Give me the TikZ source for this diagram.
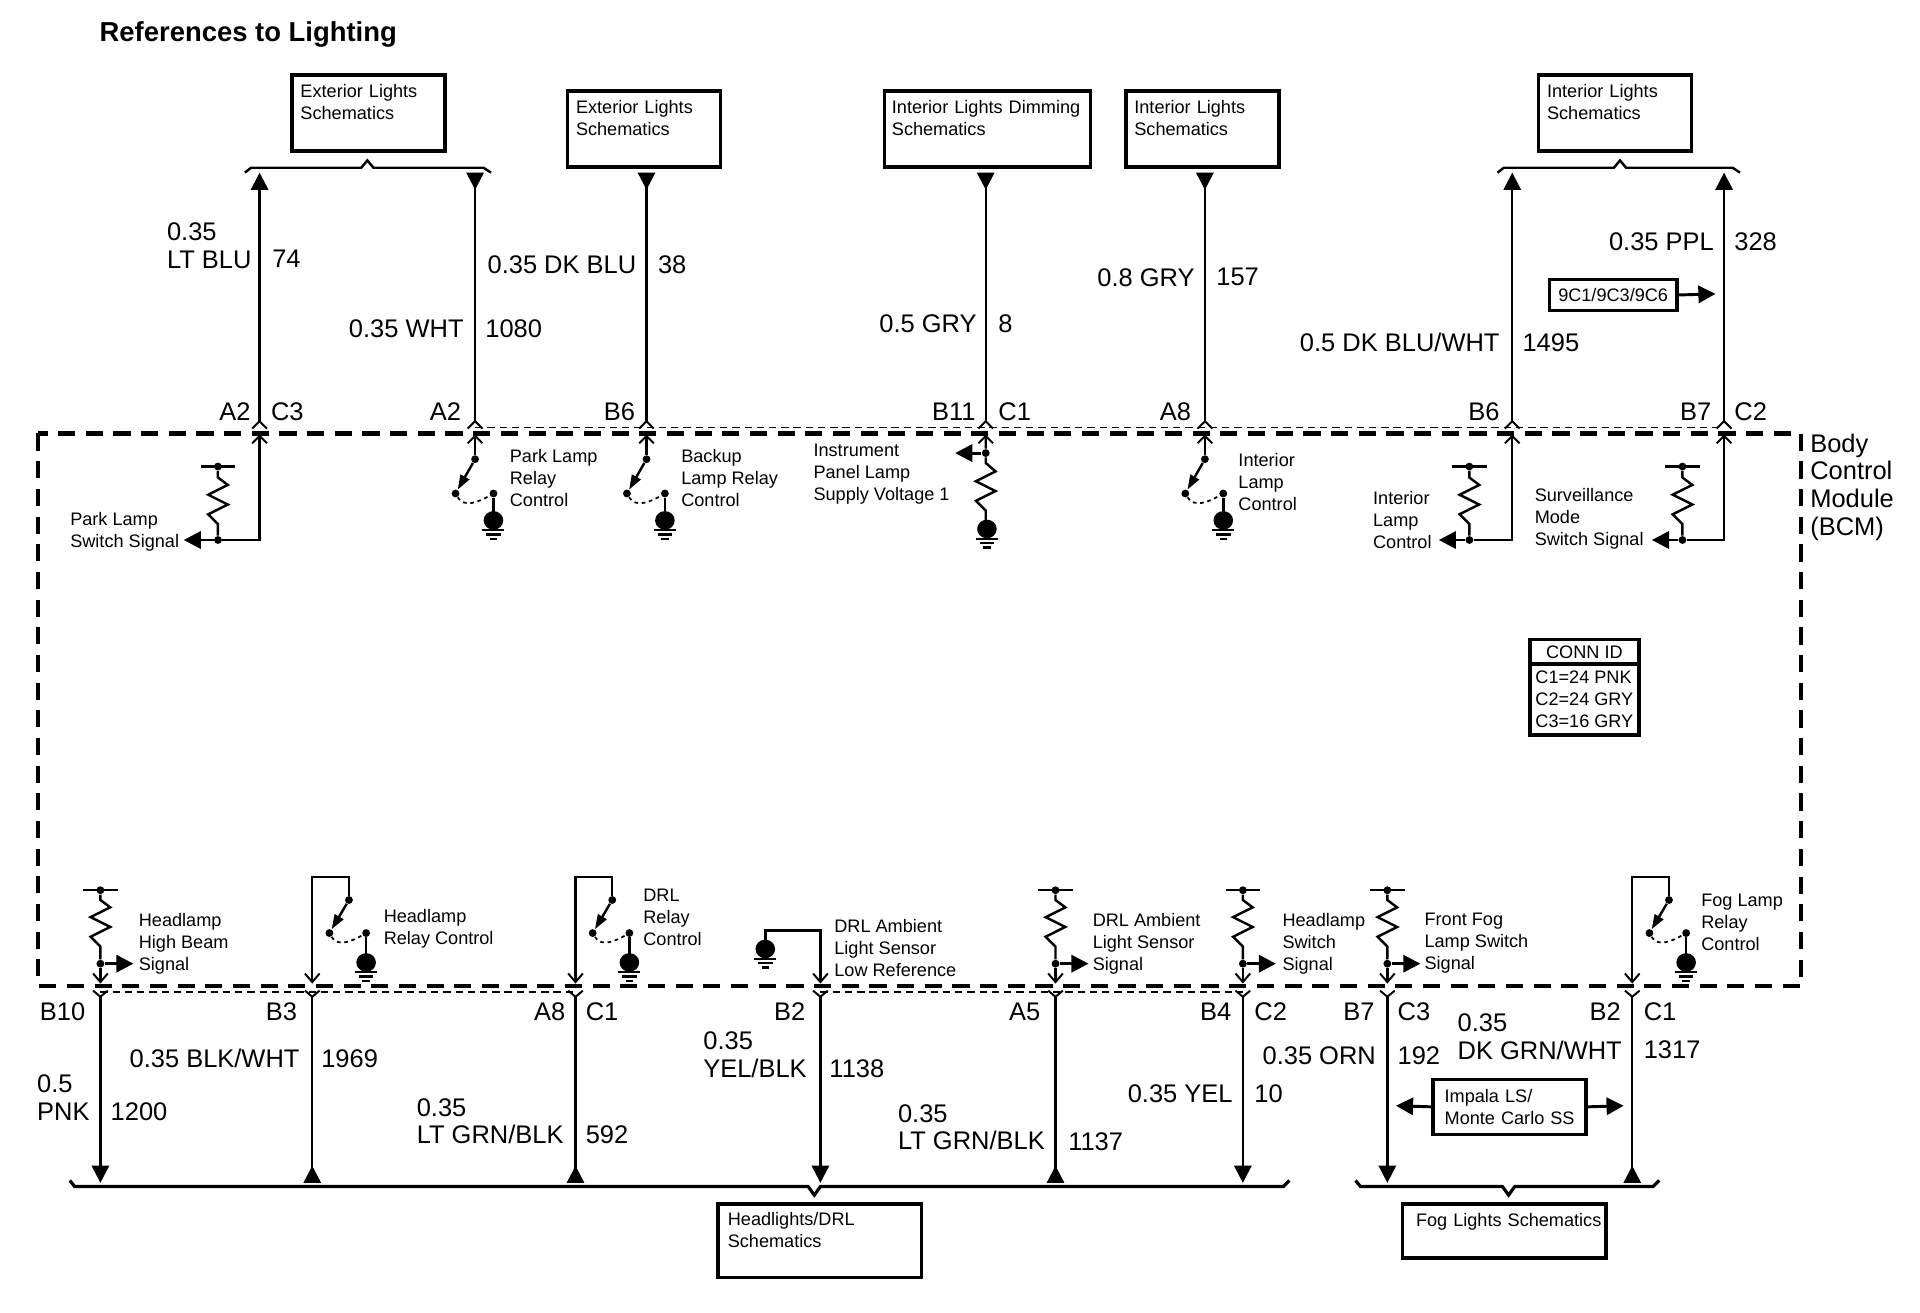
\documentclass[tikz,border=0pt]{standalone}
\usepackage{fontspec}
\setmainfont{Liberation Sans}
\usetikzlibrary{positioning}
\usetikzlibrary{arrows.meta}
\usetikzlibrary{shapes.geometric}
\tikzset{
    wire/.style={line width=1pt},
    pinmark/.style={line width=.8pt},
    shell/.style={line width=.6pt,dash pattern=on 3pt off 2pt},
    bcmline/.style={line width=1.8pt,dash pattern=on 7pt off 4.3pt},
    fwdwire/.style={wire,-{Triangle[width=7pt,length=7pt]}},
    revwire/.style={wire,-{Triangle[reversed,width=7pt,length=7pt]}},
    sigwire/.style={line width=1.2pt,-{Triangle[width=7pt,length=7pt]}},
    dot/.style={circle,fill,inner sep=0pt,minimum size=3.2pt},
    lbl/.style={inner sep=0pt,align=left,font=\fontsize{10.4}{11.2}\selectfont},
    smalllbl/.style={inner sep=0pt,align=left,font=\fontsize{7.4}{9}\selectfont},
    schembox/.style n args={3}{draw,line width=1.4pt,anchor=north west,align=left,inner ysep=0pt,
        inner xsep=#3,text width=#1,minimum height=#2,font=\fontsize{7.4}{9}\selectfont},
}
\begin{document}
\begin{tikzpicture}[x=.5pt,y=-.5pt]
        \useasboundingbox (0,0) rectangle (1568,1071.5);
        \node[anchor=west,inner sep=0pt,font=\fontsize{11.2}{12}\selectfont\bfseries] (title) at (81,28.5) {References to Lighting};

        % module outline
        \draw[bcmline] (31,354) rectangle (1471,805);
        \node[anchor=west,inner sep=0pt,align=left,font=\fontsize{10.4}{11.4}\selectfont] (bcm) at (1478,398) {Body\\Control\\Module\\(BCM)};

        % schematic boxes
        \node[schembox={55.5pt}{31pt}{3.5pt}] (extone) at (237,60) {Exterior Lights\\Schematics\\\ };
        \node[schembox={55.5pt}{31pt}{3.5pt}] (exttwo) at (462,73) {Exterior Lights\\Schematics\\\ };
        \node[schembox={78pt}{31pt}{3pt}] (dimbox) at (721,73) {Interior Lights Dimming\\Schematics\\\ };
        \node[schembox={55.5pt}{31pt}{3.5pt}] (intone) at (918,73) {Interior Lights\\Schematics\\\ };
        \node[schembox={55.5pt}{31pt}{3.5pt}] (inttwo) at (1255,60) {Interior Lights\\Schematics\\\ };
        \node[schembox={75pt}{30pt}{4pt}] (headbox) at (585,982) {Headlights/DRL\\Schematics\\\ };
        \node[schembox={72pt}{22pt}{5.5pt}] (fogbox) at (1144,982) {\mbox{Fog Lights Schematics}\\\ };
        \node[schembox={53pt}{22.5pt}{4.7pt}] (impala) at (1169,880) {Impala LS/\\\mbox{Monte Carlo SS}};
        \node[schembox={46pt}{12.5pt}{3pt},font=\fontsize{7.4}{8}\selectfont,align=center] (option) at (1264,227) {9C1/9C3/9C6};
        \coordinate (impleft) at (1140,903);
        \coordinate (impright) at (1326,903);
        \coordinate (opttip) at (1401,240);
        \draw[sigwire] (impala.west) -- (impleft);
        \draw[sigwire] (impala.east) -- (impright);
        \draw[sigwire] (option.east) -- (opttip);

        % connector table
        \node[draw,line width=1.4pt,anchor=north west,minimum width=44.5pt,minimum height=10pt,inner sep=0pt,font=\fontsize{7.4}{9}\selectfont] (connid) at (1248,521) {CONN ID};
        \node[draw,line width=1.4pt,below=-1.4pt of connid,minimum width=44.5pt,minimum height=29pt,inner sep=0pt,align=left,font=\fontsize{7.4}{9}\selectfont] (conntab) {C1=24 PNK\\C2=24 GRY\\C3=16 GRY};

        % top pins: outer and inner chevrons, wire to the schematic
        \foreach \n/\x/\tip in {a/212/fwdwire,b/388/revwire,c/528/revwire,d/805/revwire,e/984/revwire,f/1235/fwdwire,g/1408/fwdwire}{
            \coordinate (pinT\n) at (\x,344);
            \coordinate (inT\n) at (\x,356);
            \coordinate (endT\n) at (\x,141);
            \draw[pinmark] (\x-6,350) -- (pinT\n) -- (\x+6,350);
            \draw[pinmark] (\x-6,362) -- (inT\n) -- (\x+6,362);
            \draw[\tip] (pinT\n) -- (endT\n);
        }
        \draw[shell] ([yshift=-2.5pt]pinTb) -- ([yshift=-2.5pt]pinTg);

        % bottom pins
        \foreach \n/\x/\tip in {a/82/fwdwire,b/255/revwire,c/470/revwire,d/670/fwdwire,e/862/revwire,f/1015/fwdwire,g/1133/fwdwire,h/1333/revwire}{
            \coordinate (pinB\n) at (\x,814);
            \coordinate (inB\n) at (\x,802);
            \coordinate (endB\n) at (\x,966);
            \draw[pinmark] (\x-6,809) -- (pinB\n) -- (\x+6,809);
            \draw[pinmark] (\x-6,795) -- (inB\n) -- (\x+6,795);
            \draw[\tip] (pinB\n) -- (endB\n);
        }
        \draw[shell] ([yshift=2pt]pinBa) -- ([yshift=2pt]pinBc);
        \draw[shell] ([yshift=2pt]pinBd) -- ([yshift=2pt]pinBf);

        % brackets
        \draw[wire] (200,141) -- (205,137) -- (295,137) -- (300,131) -- (305,137) -- (395,137) -- (401,141);
        \draw[wire] (1223,141) -- (1228,137) -- (1318,137) -- (1323,131) -- (1328,137) -- (1415,137) -- (1421,141);
        \draw[line width=1.3pt] (57,964) -- (61,969) -- (660,969) -- (665,976) -- (670,969) -- (1048,969) -- (1053,964);
        \draw[line width=1.3pt] (1107,964) -- (1111,969) -- (1227,969) -- (1232,976) -- (1237,969) -- (1350,969) -- (1355,964);

        % pull-up resistors, top row
        \foreach \n/\x/\tipx in {a/178/150,f/1200/1175,g/1374/1349}{
            \draw[wire] (\x-14,381) -- (\x+14,381);
            \node[dot] (barT\n) at (\x,381) {};
            \node[dot] (sigT\n) at (\x,441) {};
            \coordinate (tipT\n) at (\tipx,441);
            \draw[wire] (barT\n) -- (\x,390) -- (\x+8,396) -- (\x-8,404) -- (\x+8,412) -- (\x-8,420) -- (\x,428) -- (sigT\n);
            \draw[wire] (inT\n) |- (sigT\n);
            \draw[sigwire] (sigT\n) -- (tipT\n);
        }

        % pull-up resistors, bottom row
        \foreach \n/\x in {a/82,e/862,f/1015,g/1133}{
            \draw[wire] (\x-14,727) -- (\x+14,727);
            \node[dot] (barB\n) at (\x,727) {};
            \node[dot] (sigB\n) at (\x,787) {};
            \coordinate (tipB\n) at (\x+27,787);
            \draw[wire] (barB\n) -- (\x,735) -- (\x+8,741) -- (\x-8,749) -- (\x+8,757) -- (\x-8,765) -- (\x,773) -- (sigB\n);
            \draw[wire] (sigB\n) -- (inB\n);
            \draw[sigwire] (sigB\n) -- (tipB\n);
        }

        % instrument panel lamp supply
        \node[dot] (sigTd) at (805,370) {};
        \coordinate (tipTd) at (780,370);
        \draw[wire] (inTd) -- (sigTd) -- (805,378) -- (813,385) -- (797,393) -- (813,401) -- (797,409) -- (805,417) -- (805,425);
        \draw[sigwire] (sigTd) -- (tipTd);

        % relay switches, top row
        \foreach \n/\x in {b/388,c/528,e/984}{
            \node[dot] (armT\n) at (\x,375) {};
            \node[dot] (conT\n) at (\x-16,403) {};
            \node[dot] (gndT\n) at (\x+15,403) {};
            \draw[wire] (inT\n) -- (armT\n);
            \draw[wire,-{Triangle[width=4pt,length=6pt]}] (armT\n) -- (conT\n);
            \draw[line width=.7pt,dash pattern=on 1.5pt off 1.5pt] (conT\n) to[out=-60,in=-150] (gndT\n);
        }

        % relay switches, bottom row
        \foreach \n/\x in {b/255,c/470,h/1333}{
            \node[dot] (armB\n) at (\x+30,735) {};
            \node[dot] (conB\n) at (\x+14,762) {};
            \node[dot] (gndB\n) at (\x+44,762) {};
            \draw[wire] (inB\n) -- (\x,716) -- (\x+30,716) -- (armB\n);
            \draw[wire,-{Triangle[width=4pt,length=6pt]}] (armB\n) -- (conB\n);
            \draw[line width=.7pt,dash pattern=on 1.5pt off 1.5pt] (conB\n) to[out=-60,in=-150] (gndB\n);
        }

        % ambient sensor low reference
        \coordinate (lowref) at (625,760);
        \draw[wire] (inBd) |- (lowref) -- (625,774);

        % grounds
        \foreach \x/\y in {403/425,543/425,999/425,806/432,299/786,514/786,1377/786,625/775}{
            \fill (\x,\y) ellipse [x radius=4pt,y radius=3.8pt];
            \draw[wire] (\x-9,\y+8) -- (\x+9,\y+8);
            \draw[wire] (\x-6,\y+11.5) -- (\x+6,\y+11.5);
            \draw[wire] (\x-3,\y+15) -- (\x+3,\y+15);
        }
        \foreach \n/\x/\y in {b/403/403,c/543/403,e/999/403}
            \draw[wire] (gndT\n) -- (\x,425);
        \foreach \n/\x in {b/299,c/514,h/1377}
            \draw[wire] (gndB\n) -- (\x,786);

        % signal names
        \foreach \n/\x/\y/\t in {pa/57/433/{Park Lamp\\Switch Signal},
            pb/416/389/{Park Lamp\\Relay\\Control},
            pc/556/389/{Backup\\Lamp Relay\\Control},
            pd/664/386/{Instrument\\Panel Lamp\\Supply Voltage 1},
            pe/1011/392/{Interior\\Lamp\\Control},
            pf/1121/423/{Interior\\Lamp\\Control},
            pg/1253/422/{Surveillance\\Mode\\Switch Signal},
            qa/113/769/{Headlamp\\High Beam\\Signal},
            qb/313/757/{Headlamp\\Relay Control},
            qc/525/748/{DRL\\Relay\\Control},
            qd/681/773/{DRL Ambient\\Light Sensor\\Low Reference},
            qe/892/769/{DRL Ambient\\Light Sensor\\Signal},
            qf/1047/769/{Headlamp\\Switch\\Signal},
            qg/1163/769/{Front Fog\\Lamp Switch\\Signal},
            qh/1389/752/{Fog Lamp\\Relay\\Control}}
            \node[smalllbl,anchor=west] (sig\n) at (\x,\y+1.5) {\t};

        % labels left of their wire
        \foreach \n/\x/\y/\t in {la/205/336/A2,lb/377/336/A2,lc/519/336/B6,ld/797/336/B11,le/973/336/A8,lf/1225/336/B6,lg/1398/336/B7,
            ma/70/826/B10,mb/243/826/B3,mc/462/826/A8,md/658/826/B2,me/850/826/A5,mf/1006/826/B4,mg/1123/826/B7,mh/1324/826/B2,
            wb/379/268/{0.35 WHT},wc/520/216/{0.35 DK BLU},wd/798/264/{0.5 GRY},we/976/226/{0.8 GRY},wf/1225/279/{0.5 DK BLU/WHT},wg/1400/197/{0.35 PPL},
            xb/245/864/{0.35 BLK/WHT},xf/1007/893/{0.35 YEL},xg/1124/862/{0.35 ORN}}
            \node[lbl,anchor=east] (left\n) at (\x,\y+.5) {\t};

        % labels right of their wire
        \foreach \n/\x/\y/\t in {la/221/336/C3,ld/815/336/C1,lg/1416/336/C2,
            mc/478/826/C1,mf/1024/826/C2,mg/1141/826/C3,mh/1342/826/C1,
            wa/222/211/74,wb/396/268/1080,wc/537/216/38,wd/815/264/8,we/993/226/157,wf/1243/279/1495,wg/1416/197/328,
            xa/90/907/1200,xb/262/864/1969,xc/478/926/592,xd/677/872/1138,xe/872/932/1137,xf/1024/893/10,xg/1141/862/192,xh/1342/857/1317}
            \node[lbl,anchor=west] (right\n) at (\x,\y+.5) {\t};

        % two line wire colours
        \foreach \n/\x/\y/\t in {wa/136/200/{0.35\\LT BLU},xa/30/896/{0.5\\PNK},xc/340/915/{0.35\\LT GRN/BLK},
            xd/574/861/{0.35\\YEL/BLK},xe/733/920/{0.35\\LT GRN/BLK},xh/1190/846/{0.35\\DK GRN/WHT}}
            \node[lbl,anchor=west] (two\n) at (\x,\y+.5) {\t};
\end{tikzpicture}
\end{document}
